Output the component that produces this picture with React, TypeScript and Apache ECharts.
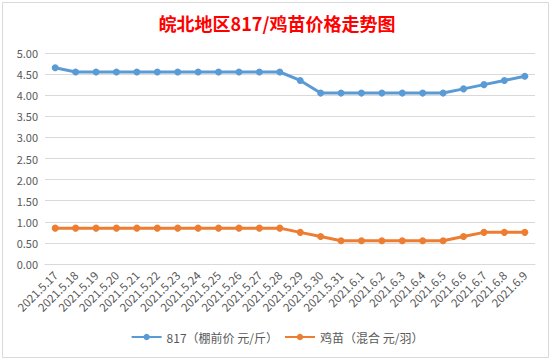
import React, { useEffect, useRef } from "react";
import * as echarts from "echarts";

const titleText = "皖北地区817/鸡苗价格走势图";
const categories = [
  "2021.5.17", "2021.5.18", "2021.5.19", "2021.5.20", "2021.5.21", "2021.5.22",
  "2021.5.23", "2021.5.24", "2021.5.25", "2021.5.26", "2021.5.27", "2021.5.28",
  "2021.5.29", "2021.5.30", "2021.5.31", "2021.6.1", "2021.6.2", "2021.6.3",
  "2021.6.4", "2021.6.5", "2021.6.6", "2021.6.7", "2021.6.8", "2021.6.9",
];
const seriesNames = ["817（棚前价 元/斤）", "鸡苗（混合 元/羽）"];
const price817 = [
  4.65, 4.55, 4.55, 4.55, 4.55, 4.55, 4.55, 4.55, 4.55, 4.55, 4.55, 4.55,
  4.35, 4.05, 4.05, 4.05, 4.05, 4.05, 4.05, 4.05, 4.15, 4.25, 4.35, 4.45,
];
const priceChick = [
  0.85, 0.85, 0.85, 0.85, 0.85, 0.85, 0.85, 0.85, 0.85, 0.85, 0.85, 0.85,
  0.75, 0.65, 0.55, 0.55, 0.55, 0.55, 0.55, 0.55, 0.65, 0.75, 0.75, 0.75,
];
const colors = ["#5b9bd5", "#ed7d31"];

export default function App() {
  const ref = useRef<HTMLDivElement>(null);
  useEffect(() => {
    document.body.style.margin = "0";
    const chart = echarts.init(ref.current!, null, { renderer: "svg" });
    const font = "'Microsoft YaHei','Noto Sans CJK SC',sans-serif";
    chart.setOption({
      animation: false,
      backgroundColor: "#ffffff",
      textStyle: { fontFamily: font },
      title: {
        text: titleText,
        left: "center",
        top: 9,
        textStyle: { color: "#ff0000", fontSize: 18, fontWeight: "bold", fontFamily: font },
      },
      graphic: [
        {
          type: "rect",
          shape: { x: 2.5, y: 2.5, width: 546, height: 355 },
          style: { fill: "none", stroke: "#d9d9d9", lineWidth: 1 },
          silent: true,
        },
      ],
      legend: {
        bottom: 13,
        left: "center",
        itemWidth: 30,
        itemHeight: 8,
        itemGap: 6,
        textStyle: { color: "#595959", fontSize: 12, fontFamily: font },
        data: seriesNames,
      },
      grid: { left: 45, right: 19, top: 53, height: 211, containLabel: false },
      xAxis: {
        type: "category",
        data: categories,
        boundaryGap: true,
        axisLine: { show: true, lineStyle: { color: "#d9d9d9" } },
        axisTick: { show: false },
        axisLabel: {
          interval: 0,
          rotate: 45,
          color: "#595959",
          fontSize: 11.5,
          margin: 9,
          fontFamily: font,
        },
      },
      yAxis: {
        type: "value",
        min: 0,
        max: 5,
        interval: 0.5,
        axisLine: { show: false },
        axisTick: { show: false },
        splitLine: { lineStyle: { color: "#d9d9d9", width: 1 } },
        axisLabel: {
          color: "#595959",
          fontSize: 11,
          margin: 7,
          fontFamily: font,
          formatter: (v: number) => v.toFixed(2),
        },
      },
      series: [
        {
          name: seriesNames[0],
          type: "line",
          data: price817,
          color: colors[0],
          symbol: "circle",
          symbolSize: 7,
          lineStyle: { width: 3, color: colors[0] },
          itemStyle: { color: colors[0] },
        },
        {
          name: seriesNames[1],
          type: "line",
          data: priceChick,
          color: colors[1],
          symbol: "circle",
          symbolSize: 7,
          lineStyle: { width: 3, color: colors[1] },
          itemStyle: { color: colors[1] },
        },
      ],
    });
    return () => chart.dispose();
  }, []);
  return (
    <div
      ref={ref}
      style={{ position: "absolute", left: 0, top: 0, width: 554, height: 361 }}
    />
  );
}
